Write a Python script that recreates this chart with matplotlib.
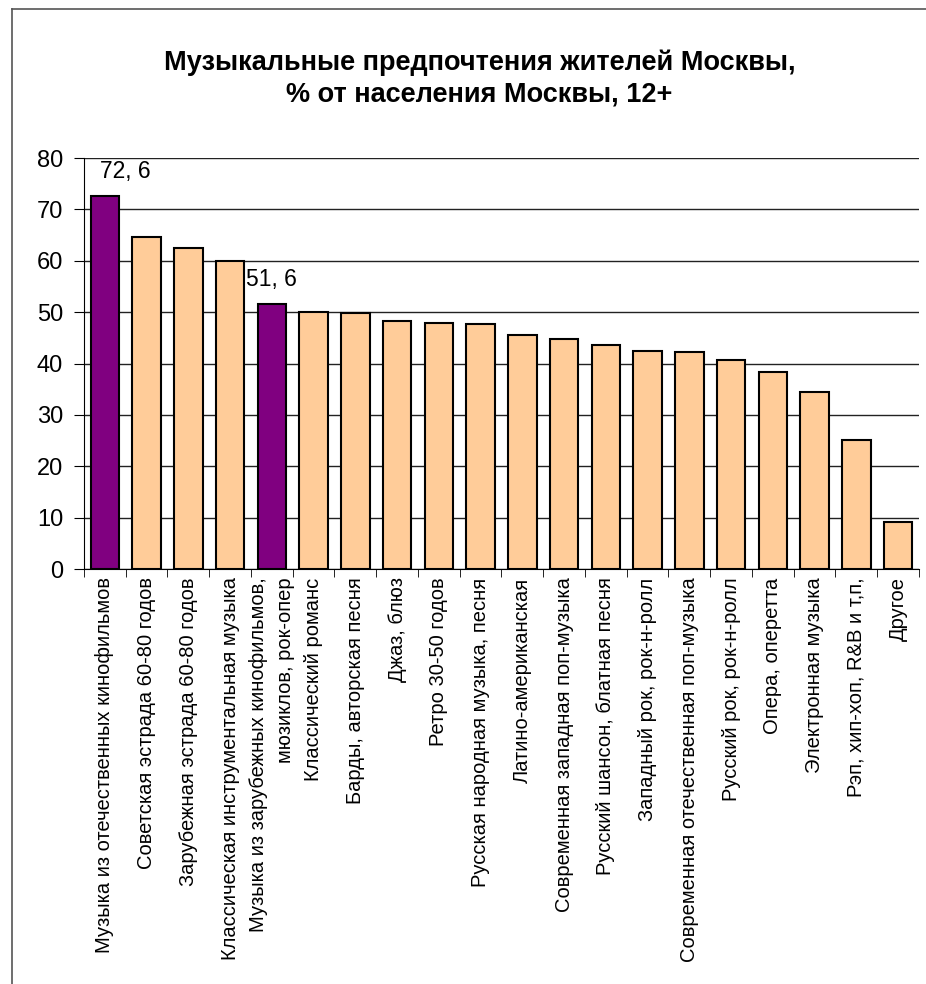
"""Music preferences of Moscow residents"""
import numpy as np
import matplotlib
matplotlib.use('Agg')
import matplotlib.pyplot as plt
from matplotlib.lines import Line2D

categories = [
    'Музыка из отечественных кинофильмов',
    'Советская эстрада 60-80 годов',
    'Зарубежная эстрада 60-80 годов',
    'Классическая инструментальная музыка',
    'Музыка из зарубежных кинофильмов,\nмюзиклов, рок-опер',
    'Классический романс',
    'Барды, авторская песня',
    'Джаз, блюз',
    'Ретро 30-50 годов',
    'Русская народная музыка, песня',
    'Латино-американская',
    'Современная западная поп-музыка',
    'Русский шансон, блатная песня',
    'Западный рок, рок-н-ролл',
    'Современная отечественная поп-музыка',
    'Русский рок, рок-н-ролл',
    'Опера, оперетта',
    'Электронная музыка',
    'Рэп, хип-хоп, R&B и т,п,',
    'Другое',
]
values = [72.6, 64.6, 62.5, 59.9, 51.6, 50.0, 49.9, 48.3, 47.9, 47.6,
          45.5, 44.7, 43.6, 42.4, 42.2, 40.7, 38.3, 34.5, 25.2, 9.1]
highlight = [0, 4]
labels = {0: '72, 6', 4: '51, 6'}
yticks = [0, 10, 20, 30, 40, 50, 60, 70, 80]


def main():
    plt.rcParams['font.family'] = ['Liberation Sans', 'DejaVu Sans']
    fig = plt.figure(figsize=(9.26, 9.84), dpi=100)
    ax = fig.add_axes([0.0907, 0.4217, 0.9017, 0.4177])

    x = np.arange(len(values))
    colors = ['#800080' if i in highlight else '#FFCC99' for i in x]
    ax.bar(x, values, width=0.68, color=colors, edgecolor='black',
           linewidth=1.5, zorder=3)

    for i, txt in labels.items():
        dx = 0.5 if i == 0 else 0.0
        ax.text(i + dx, values[i] + 2.6, txt, ha='center', va='bottom',
                fontsize=16.5)

    ax.set_xlim(-0.5, len(values) - 0.5)
    ax.set_ylim(0, 80)
    ax.set_yticks(yticks)
    ax.set_yticklabels([str(v) for v in yticks], fontsize=17)
    ax.yaxis.grid(True, color='#222222', linewidth=1.0, zorder=0)

    ax.set_xticks(x)
    ax.set_xticklabels(categories, rotation=90, fontsize=14.5,
                       va='top', ha='center', multialignment='right',
                       linespacing=1.5)
    ax.tick_params(axis='x', length=0, pad=6)
    ax.set_xticks(np.arange(len(values) + 1) - 0.5, minor=True)
    ax.tick_params(axis='x', which='minor', length=6, direction='out')
    ax.tick_params(axis='y', length=7, direction='out', pad=8)

    ax.spines['top'].set_visible(False)
    ax.spines['right'].set_visible(False)

    fig.text(0.518, 0.920, 'Музыкальные предпочтения жителей Москвы,\n'
             '% от населения Москвы, 12+', ha='center', va='center',
             fontsize=19.5, fontweight='bold', linespacing=1.25)

    # outer frame (left and top edges)
    fig.add_artist(Line2D([12 / 926, 12 / 926], [0, 1 - 9 / 984],
                          color='#555555', linewidth=1.2))
    fig.add_artist(Line2D([12 / 926, 1], [1 - 9 / 984, 1 - 9 / 984],
                          color='#555555', linewidth=1.2))

    fig.savefig('out.png', dpi=100)


if __name__ == '__main__':
    main()
